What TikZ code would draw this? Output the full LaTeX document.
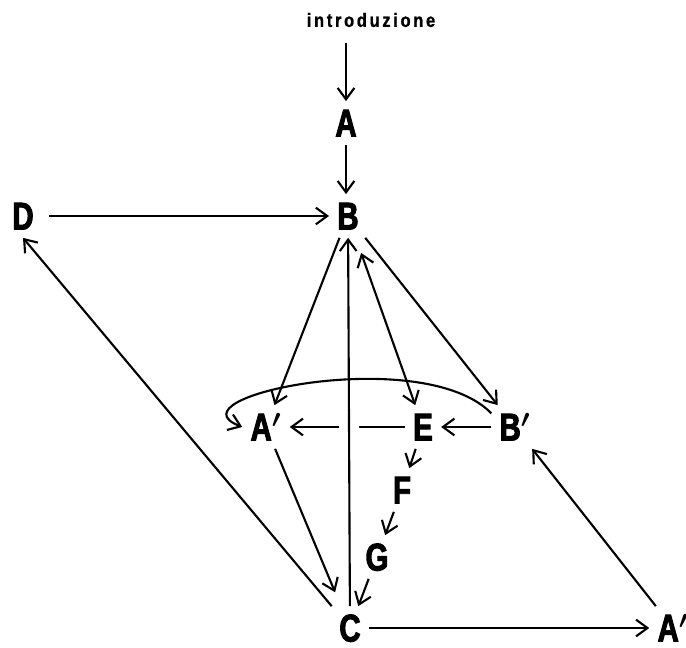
\documentclass[tikz,border=0pt]{standalone}
\usepackage{fontspec}
\newfontfamily\lblfont{Liberation Sans Bold}[FakeStretch=0.76,FakeBold=2.5]
\newfontfamily\introfont{Liberation Sans Bold}[FakeStretch=0.85,FakeBold=1,LetterSpace=14]
\usetikzlibrary{arrows.meta}

\begin{document}
\begin{tikzpicture}[
  lbl/.style={inner sep=0.16cm,text height=0.54cm,text depth=0pt,
    font=\lblfont\boldmath\fontsize{22}{26}\selectfont},
  arr/.style={line width=1.2pt,-{Straight Barb[length=6.5pt,width=9.5pt,line width=1.2pt]}},
  arrboth/.style={line width=1.2pt,{Straight Barb[length=6.5pt,width=9.5pt,line width=1.2pt]}-{Straight Barb[length=6.5pt,width=9.5pt,line width=1.2pt]}}]
  \useasboundingbox (0,0) rectangle (13.72,12.94);
  % nodes
  \node[font=\introfont\fontsize{11}{13}\selectfont] (intro) at (7.42,12.54) {introduzione};
  \node[lbl] (A) at (6.92,10.48) {A};
  \node[lbl] (B) at (6.96,8.62) {B};
  \node[lbl] (D) at (0.46,8.62) {D};
  \node[lbl] (ApL) at (5.32,4.40) {A$'$};
  \node[lbl] (E) at (8.46,4.40) {E};
  \node[lbl] (Bp) at (10.30,4.40) {B$'$};
  \node[lbl] (F) at (8.04,3.14) {F};
  \node[lbl] (G) at (7.54,1.80) {G};
  \node[lbl] (C) at (7.00,0.38) {C};
  \node[lbl] (ApR) at (13.46,0.38) {A$'$};
  % connectors
  \draw[arr,shorten <=0.2cm] (intro.south -| A) -- (A);
  \draw[arr] (A) -- (A |- B.north);
  \draw[arr,shorten <=0.15cm] (D) -- (B);
  \draw[arr] (E) -- (ApL);
  \draw[arr,preaction={draw,white,line width=0.4cm,arrows=-}] (C) -- (B);
  \draw[arr] (B) -- (ApL);
  \draw[arrboth,shorten <=0.32cm] (B) -- (E);
  \draw[arr] (B) -- (Bp);
  \draw[arr] (Bp) -- (E);
  \draw[arr] (Bp.150) .. controls +(-1.36,1.4) and +(-1.54,0.6) .. (ApL.west);
  \draw[arr,shorten >=0.3cm] (ApL) -- (C);
  \draw[arr] (C) -- (D.south);
  \draw[arr] (E) -- (F);
  \draw[arr] (F) -- (G);
  \draw[arr] (G) -- (C);
  \draw[arr] (C) -- (ApR);
  \draw[arr] (ApR) -- (Bp);
\end{tikzpicture}
\end{document}
